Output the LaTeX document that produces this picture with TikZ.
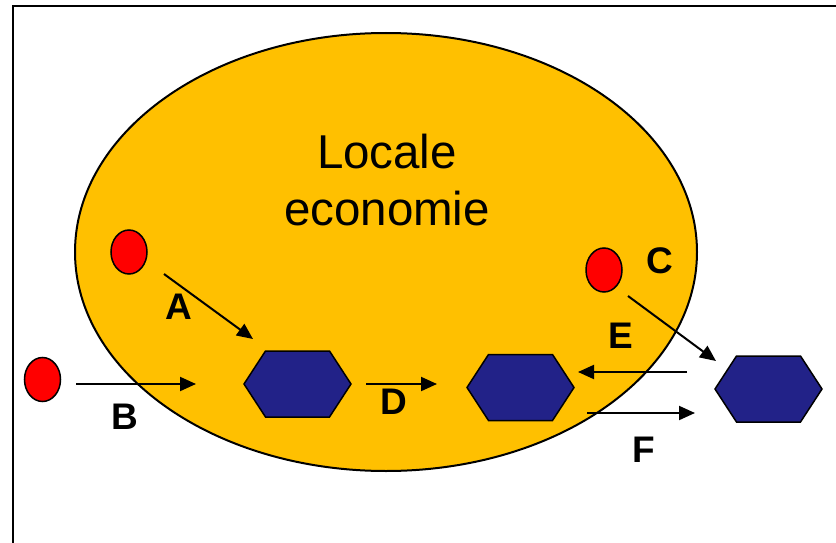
\documentclass[tikz,border=0pt]{standalone}
\usepackage{fontspec}
\setmainfont{Liberation Sans}
\usetikzlibrary{shapes.geometric,arrows.meta}
\definecolor{eco}{RGB}{255,192,0}
\definecolor{hexblue}{RGB}{34,34,136}
\definecolor{dotred}{RGB}{255,0,0}
\tikzset{
  frameline/.style={line width=2.2pt,black},
  bigellipse/.style={ellipse,draw=black,line width=2pt,fill=eco,minimum width=622pt,minimum height=438pt,inner sep=0pt},
  agent/.style={ellipse,draw=black,line width=1.5pt,fill=dotred,minimum width=36pt,minimum height=44pt,inner sep=0pt},
  hexbox/.style={minimum width=107pt,minimum height=66pt,inner sep=0pt,outer sep=0pt},
  hexfill/.style={draw=black,line width=1.5pt,fill=hexblue,line join=miter},
  arr/.style={line width=2pt,-{Triangle[length=16pt,width=14pt]}},
  lbl/.style={font=\bfseries\fontsize{37}{40}\selectfont,inner sep=0pt},
  title/.style={font=\fontsize{47.5}{57}\selectfont,align=center,inner sep=0pt}
}
\begin{document}
\begin{tikzpicture}[x=1pt,y=-1pt]
\useasboundingbox (0,0) rectangle (836,543);
\draw[frameline] (13,545) -- (13,6) -- (838,6);
\node[bigellipse] (eco) at (386,252) {};
\node[title] (ttl) at (387,180) {Locale\\economie};
% hexagons
\node[hexbox] (h1) at (297.5,384) {};
\node[hexbox] (h2) at (520.5,387.5) {};
\node[hexbox] (h3) at (768.5,389) {};
\foreach \h in {h1,h2,h3}{
  \draw[hexfill] (\h.west) -- ([xshift=21.5pt]\h.north west) -- ([xshift=-21.5pt]\h.north east) -- (\h.east) -- ([xshift=-21.5pt]\h.south east) -- ([xshift=21.5pt]\h.south west) -- cycle;
}
% red agents
\node[agent] (r1) at (129,252) {};
\node[agent] (r2) at (42.5,379.5) {};
\node[agent] (r3) at (604,270) {};
% arrow end points
\coordinate (aS) at (164,274); \coordinate (aE) at (253,339);
\coordinate (bS) at (76,384);  \coordinate (bE) at (196,384);
\coordinate (dS) at (366,384); \coordinate (dE) at (437,384);
\coordinate (eS) at (687,372); \coordinate (eE) at (578,372);
\coordinate (fS) at (587,413); \coordinate (fE) at (695,413);
\coordinate (cS) at (628,296); \coordinate (cE) at (716,361);
\draw[arr] (aS) -- (aE);
\draw[arr] (bS) -- (bE);
\draw[arr] (dS) -- (dE);
\draw[arr] (eS) -- (eE);
\draw[arr] (fS) -- (fE);
\draw[arr] (cS) -- (cE);
% labels
\node[lbl] (la) at (179,307) {A};
\node[lbl] (lb) at (125,417) {B};
\node[lbl] (lc) at (660,261) {C};
\node[lbl] (ld) at (394,402) {D};
\node[lbl] (le) at (621,336) {E};
\node[lbl] (lf) at (644,450) {F};
\end{tikzpicture}
\end{document}
